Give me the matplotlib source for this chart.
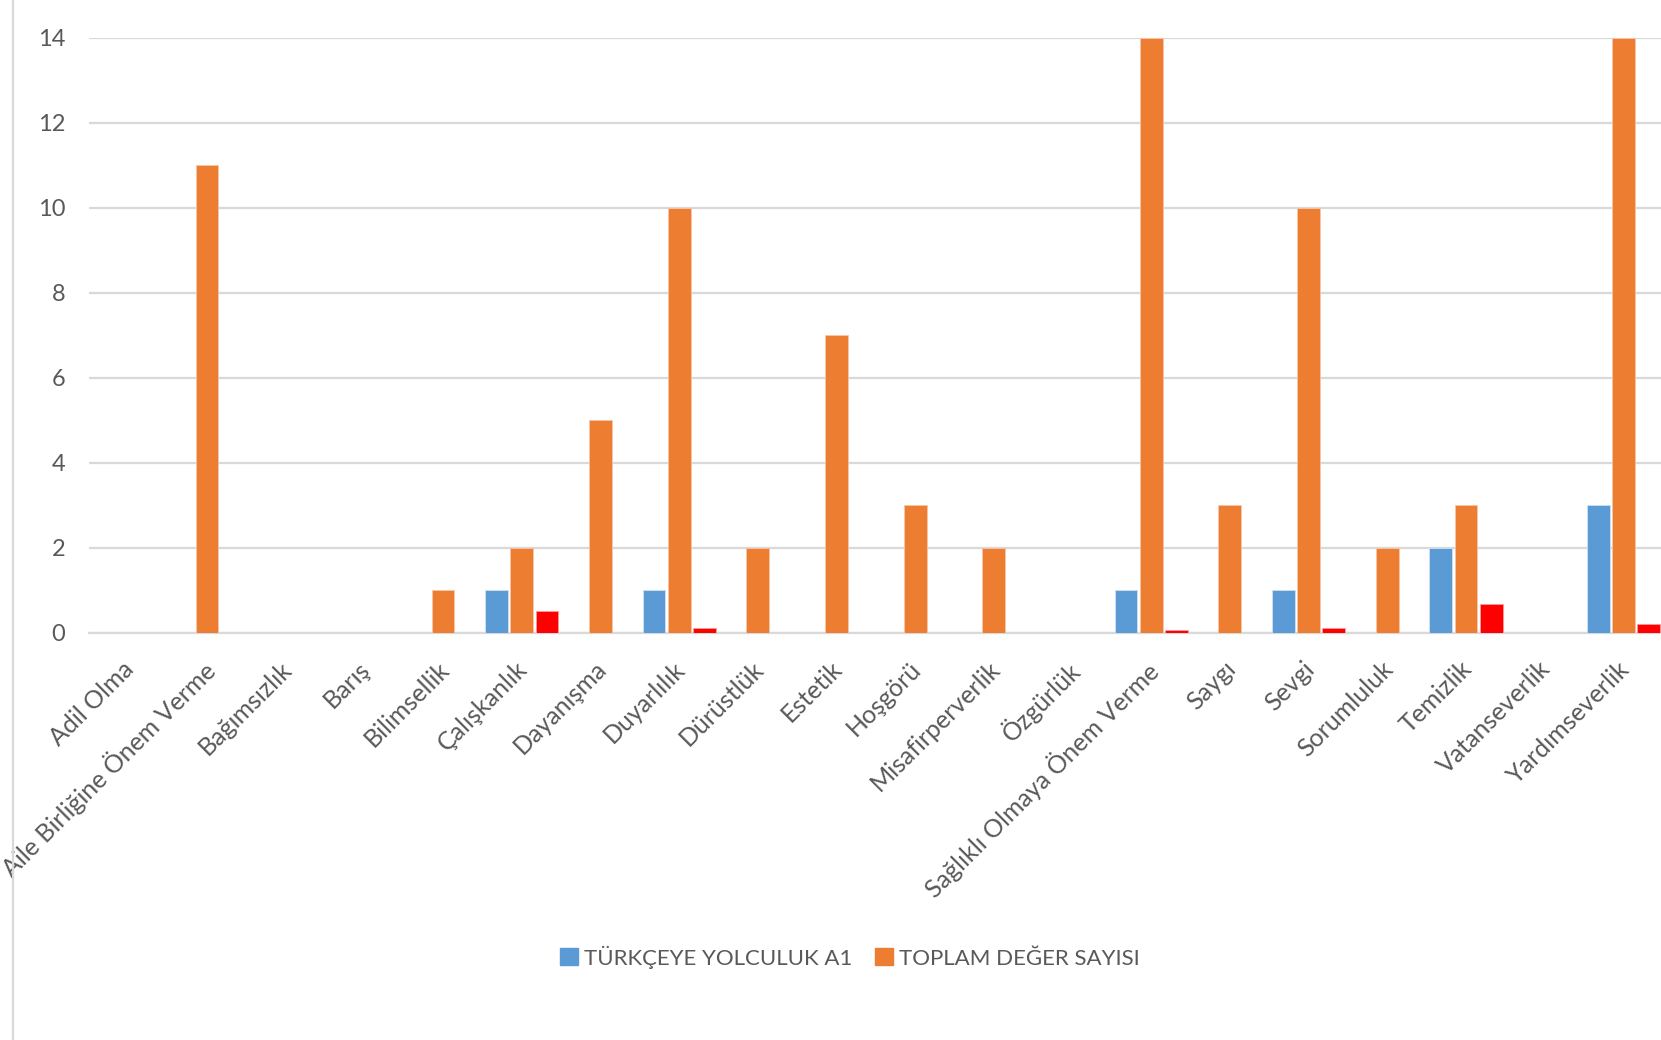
import numpy as np
import matplotlib
matplotlib.use("Agg")
import matplotlib.pyplot as plt
import matplotlib.transforms as mtransforms
from matplotlib.lines import Line2D
from matplotlib.patches import Patch

plt.rcParams['font.family'] = ['Lato', 'DejaVu Sans']

# değerler ve kategoriler
degerler = ["Adil Olma", "Aile Birliğine Önem Verme", "Bağımsızlık", "Barış",
            "Bilimsellik", "Çalışkanlık", "Dayanışma", "Duyarlılık", "Dürüstlük",
            "Estetik", "Hoşgörü", "Misafirperverlik", "Özgürlük",
            "Sağlıklı Olmaya Önem Verme", "Saygı", "Sevgi", "Sorumluluk",
            "Temizlik", "Vatanseverlik", "Yardımseverlik"]
a1_sayisi = [0, 0, 0, 0, 0, 1, 0, 1, 0, 0, 0, 0, 0, 1, 0, 1, 0, 2, 0, 3]
toplam_sayi = [0, 11, 0, 0, 1, 2, 5, 10, 2, 7, 3, 2, 0, 14, 3, 10, 2, 3, 0, 14]
oran = [0, 0, 0, 0, 0, 0.5, 0, 0.1, 0, 0, 0, 0, 0, 0.07, 0, 0.1, 0, 0.67, 0, 0.21]

mavi = '#5B9BD5'
turuncu = '#ED7D31'
kirmizi = '#FF0000'
gri = '#595959'

fig = plt.figure(figsize=(16.61, 10.40), dpi=100)
ax = fig.add_axes([89 / 1661, 407.3 / 1040, 1 - 89 / 1661 + 0.001, (632.7 - 37.7) / 1040])

x = np.arange(len(degerler))
w = 0.29
d = 0.32
ax.bar(x - d, a1_sayisi, w, color=mavi, edgecolor='#cfe0f2', linewidth=0.6, zorder=3)
ax.bar(x, toplam_sayi, w, color=turuncu, edgecolor='#f6c6a8', linewidth=0.6, zorder=3)
ax.bar(x + d, oran, w, color=kirmizi, edgecolor='#ff9a9a', linewidth=0.6, zorder=3)

ax.set_xlim(-0.5, len(degerler) - 0.5)
ax.set_ylim(0, 14)
ax.set_yticks(range(0, 15, 2))
ax.yaxis.grid(True, color='#d9d9d9', linewidth=1.6, zorder=0)
ax.set_axisbelow(True)
for s in ['top', 'right', 'left']:
    ax.spines[s].set_visible(False)
ax.spines['bottom'].set_color('#d9d9d9')
ax.spines['bottom'].set_linewidth(1.6)
ax.tick_params(axis='y', length=0, pad=17, labelsize=17, labelcolor=gri)
ax.tick_params(axis='x', length=0, pad=16, labelsize=18, labelcolor=gri)
ax.set_xticks(x)
ax.set_xticklabels(degerler, rotation=45, ha='right', rotation_mode='anchor')
kaydir = mtransforms.ScaledTranslation(-6 / 100, -2 / 100, fig.dpi_scale_trans)
for lbl in ax.get_xticklabels():
    lbl.set_transform(lbl.get_transform() + kaydir)

# sol kenardaki dikey çizgi
fig.add_artist(Line2D([13 / 1661, 13 / 1661], [0, 1], color='#d9d9d9', linewidth=1.6))

handles = [Patch(color=mavi), Patch(color=turuncu)]
fig.legend(handles, ["TÜRKÇEYE YOLCULUK A1", "TOPLAM DEĞER SAYISI"], ncol=2,
           loc='center', bbox_to_anchor=(850 / 1661, 1 - 957 / 1040), frameon=False,
           fontsize=16, labelcolor=gri, handlelength=0.8, handleheight=0.8,
           handletextpad=0.3, columnspacing=1.0)

fig.savefig('out.png', dpi=100)
